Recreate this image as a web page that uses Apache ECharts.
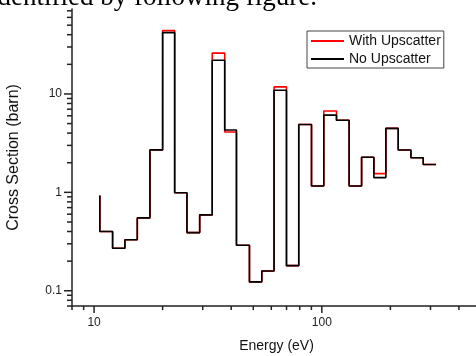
<!DOCTYPE html>
<html>
<head>
<meta charset="utf-8">
<script src="https://cdn.jsdelivr.net/npm/echarts@6/dist/echarts.min.js"></script>
<style>html,body{margin:0;padding:0;background:#fff;}#c{width:476px;height:356px;}</style>
</head>
<body>
<div id="c"></div>
<script>
// Bin edges (eV) - first entry is the start point of the step line
var energy = [10.6, 12.06, 13.66, 15.48, 17.59, 20.0, 22.59, 25.58, 29.09, 33.02, 37.47, 42.19, 48.11, 54.5, 61.7, 69.96, 79.2, 90.1, 102.0, 116.0, 131.8, 149.5, 169.3, 191.1, 216.5, 246.2, 278.8, 317.0];
var withUpscatter = [0.93, 0.40, 0.27, 0.33, 0.55, 2.7, 44, 0.99, 0.39, 0.59, 26, 4.1, 0.29, 0.123, 0.159, 11.8, 0.18, 4.9, 1.16, 6.7, 5.4, 1.16, 2.27, 1.55, 4.47, 2.69, 2.25, 1.92];
var noUpscatter = [0.93, 0.40, 0.27, 0.33, 0.55, 2.7, 42, 0.99, 0.39, 0.59, 22, 4.3, 0.29, 0.123, 0.159, 10.9, 0.18, 4.9, 1.16, 6.1, 5.4, 1.16, 2.27, 1.41, 4.47, 2.69, 2.25, 1.92];
var xTicks = [8, 9, 10, 20, 30, 40, 50, 60, 70, 80, 90, 100, 200, 300, 400, 500];
var yTicks = [0.07, 0.08, 0.09, 0.1, 0.2, 0.3, 0.4, 0.5, 0.6, 0.7, 0.8, 0.9, 1, 2, 3, 4, 5, 6, 7, 8, 9, 10, 20, 30, 40, 50, 60, 70];
var xMajor = [10, 100];
var yMajor = [0.1, 1, 10];
var X_MIN = 8, X_MAX = 500, Y_MIN = 0.07, Y_MAX = 73;

function pairs(xs, ys) { return xs.map(function (x, i) { return [x, ys[i]]; }); }

var chart = echarts.init(document.getElementById('c'), null, { renderer: 'canvas' });
var tickColor = '#222';
chart.setOption({
  animation: false,
  backgroundColor: '#fff',
  textStyle: { fontFamily: 'Liberation Sans' },
  grid: { left: 72, right: -5, top: 9, bottom: 50, containLabel: false, outerBoundsMode: 'none' },
  graphic: [{
    type: 'text', x: 317, y: -2,
    style: { text: 'identified by following figure.', font: '27px "Liberation Serif"', fill: '#000', align: 'right', verticalAlign: 'middle' }
  }],
  legend: {
    orient: 'vertical', left: 307, top: 31,
    padding: [3, 3, 2, 4], itemGap: 4, itemWidth: 33, itemHeight: 2,
    borderColor: '#444', borderWidth: 1, backgroundColor: '#fff',
    icon: 'rect',
    textStyle: { fontSize: 14, color: '#111', fontFamily: 'Liberation Sans', padding: [0, 0, 0, 0] },
    data: ['With Upscatter', 'No Upscatter']
  },
  xAxis: {
    type: 'log', logBase: 10, min: X_MIN, max: X_MAX,
    name: 'Energy (eV)', nameLocation: 'middle', nameGap: 33,
    nameTextStyle: { fontSize: 14, color: '#111', fontFamily: 'Liberation Sans' },
    axisLine: { show: true, onZero: false, lineStyle: { color: tickColor, width: 1.5 } },
    axisTick: { show: false },
    splitLine: { show: false },
    axisLabel: { fontSize: 12, color: '#222', margin: 11, showMinLabel: false, showMaxLabel: false }
  },
  yAxis: {
    type: 'log', logBase: 10, min: Y_MIN, max: Y_MAX,
    name: 'Cross Section (barn)', nameLocation: 'middle', nameGap: 50,
    nameTextStyle: { fontSize: 16, color: '#111', fontFamily: 'Liberation Sans' },
    axisLine: { show: true, onZero: false, lineStyle: { color: tickColor, width: 1.5 } },
    axisTick: { show: false },
    splitLine: { show: false },
    axisLabel: { fontSize: 12, color: '#222', margin: 10, showMinLabel: false, showMaxLabel: false }
  },
  series: [
    {
      name: 'With Upscatter', type: 'line', step: 'start', data: pairs(energy, withUpscatter),
      symbol: 'none', color: '#ff0000', lineStyle: { width: 1.6, color: '#ff0000' }, z: 2
    },
    {
      name: 'No Upscatter', type: 'line', step: 'start', data: pairs(energy, noUpscatter),
      symbol: 'none', color: '#000000', lineStyle: { width: 1.6, color: '#000000' }, z: 3
    },
    {
      type: 'custom', name: 'xticks', silent: true, clip: false, z: 5,
      data: xTicks.map(function (v) { return [v, Y_MIN]; }),
      renderItem: function (params, api) {
        var v = api.value(0);
        var p = api.coord([v, Y_MIN]);
        var len = xMajor.indexOf(v) >= 0 ? 7 : 4;
        return { type: 'line', shape: { x1: p[0], y1: p[1], x2: p[0], y2: p[1] + len }, style: { stroke: tickColor, lineWidth: 1.5 } };
      }
    },
    {
      type: 'custom', name: 'yticks', silent: true, clip: false, z: 5,
      data: yTicks.map(function (v) { return [X_MIN, v]; }),
      renderItem: function (params, api) {
        var v = api.value(1);
        var p = api.coord([X_MIN, v]);
        var len = yMajor.indexOf(v) >= 0 ? 8 : 5;
        return { type: 'line', shape: { x1: p[0] - len, y1: p[1], x2: p[0], y2: p[1] }, style: { stroke: tickColor, lineWidth: 1.5 } };
      }
    }
  ]
});
</script>
</body>
</html>
